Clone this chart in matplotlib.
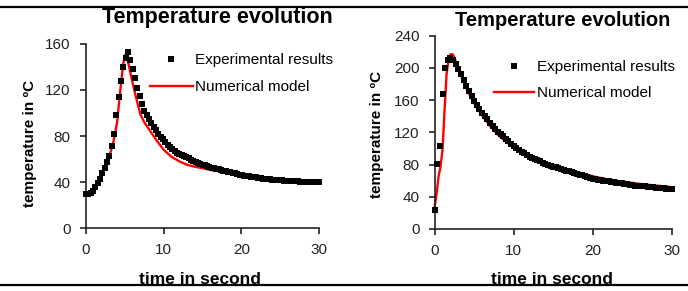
import numpy as np
import matplotlib
matplotlib.use("Agg")
import matplotlib.pyplot as plt
from matplotlib.lines import Line2D

plt.rcParams['font.family'] = ['Liberation Sans', 'DejaVu Sans']

# --- data ---
# left panel: experimental samples every 0.3 s
dt_exp_left = 0.3
temp_exp_left = [
    29.5, 29.5, 30.5, 32.5, 35.5, 39, 43, 47.5, 52, 57,
    63, 71, 82, 98, 114, 128, 140, 148, 153, 146,
    138, 130, 122, 115, 108, 102, 98, 94.5, 91, 88,
    85, 82, 79.5, 77, 74.5, 72.5, 70.5, 68.5, 67, 65.5,
    64.5, 63.5, 62.5, 61.5, 60.5, 59.5, 58.5, 57.5, 56.5, 56,
    55, 54.5, 53.5, 53, 52.5, 52, 51.5, 51, 50.5, 50,
    49.5, 49, 48.5, 48, 47.5, 47, 46.5, 46, 45.5, 45,
    45, 44.5, 44, 44, 43.5, 43.5, 43, 43, 42.5, 42.5,
    42, 42, 41.5, 41.5, 41.5, 41, 41, 41, 40.5, 40.5,
    40.5, 40.5, 40, 40, 40, 40, 40, 40, 40, 40,
    40,
]
time_model_left = [0, 0.5, 1, 1.5, 2, 2.5, 3, 3.5, 4, 4.5, 4.8, 5.0, 5.2,
                   5.5, 6, 6.5, 7, 7.5, 8, 9, 10, 11, 12, 13, 14, 15, 16,
                   17, 18, 19, 20, 22, 24, 26, 28, 30]
temp_model_left = [29, 29.5, 32, 38, 45, 53, 62, 74, 92, 125, 143, 150, 151,
                   142, 126, 112, 99, 92, 87, 77, 68, 62, 58, 55, 53.3, 52, 50.5,
                   49.5, 48.5, 47.5, 46.5, 44.5, 43, 42, 41, 40]

# right panel: experimental samples every 1/3 s
dt_exp_right = 1 / 3
temp_exp_right = [
    23, 81, 103, 168, 200, 210, 212, 210, 205, 199,
    192, 185, 178, 171, 165, 159, 154, 149, 144, 140,
    136, 132, 128, 124, 121, 118, 115, 112, 109, 106,
    103, 100.5, 98, 96, 94, 92, 90, 88.5, 87, 85.5,
    84, 82.5, 81, 80, 78.5, 77.5, 76.5, 75.5, 74.5, 73.5,
    72.5, 71.5, 70.5, 69.5, 68.5, 67.5, 66.5, 65.5, 64.5, 63.5,
    62.5, 62, 61, 60.5, 60, 59.5, 59, 58.5, 58, 57.5,
    57, 56.5, 56, 55.5, 55, 54.5, 54, 54, 53.5, 53,
    53, 52.5, 52, 52, 51.5, 51, 51, 50.5, 50, 50,
    49.5,
]
time_model_right = [0, 0.25, 0.5, 0.75, 1.0, 1.25, 1.5, 1.75, 2.0, 2.25, 2.5,
                    3, 3.5, 4, 4.5, 5, 6, 7, 8, 9, 10, 11, 12, 13, 14, 15,
                    16, 17, 18, 20, 22, 24, 26, 28, 30]
temp_model_right = [28, 45, 66, 78, 100, 148, 192, 210, 217, 217, 213,
                    198, 186, 175, 165, 156, 141, 128, 117, 108.5, 101, 94.5, 89.5, 85, 81, 78,
                    75, 72.5, 70.5, 65.5, 61.5, 58.5, 56, 54, 52]

time_exp_left = np.arange(len(temp_exp_left)) * dt_exp_left
time_exp_right = np.arange(len(temp_exp_right)) * dt_exp_right

W, H = 688, 291
MS = 4.4


def box(x0, y0, x1, y1):
    # pixel box -> figure fraction rect
    return [x0 / W, 1 - y1 / H, (x1 - x0) / W, (y1 - y0) / H]


fig = plt.figure(figsize=(W / 100, H / 100), dpi=100)


def make_panel(rect, t_exp, y_exp, t_mod, y_mod, ymax, ystep, leg):
    ax = fig.add_axes(rect)
    ax.plot(t_mod, y_mod, color='#ff0000', lw=1.7, zorder=2, clip_on=False)
    ax.plot(t_exp, y_exp, 's', color='black', ms=MS, mew=0, zorder=3, clip_on=False)
    ax.set_xlim(0, 30)
    ax.set_ylim(0, ymax)
    ax.set_xticks([0, 10, 20, 30])
    ax.set_yticks(np.arange(0, ymax + 1, ystep))
    for s in ['top', 'right']:
        ax.spines[s].set_visible(False)
    for s in ['left', 'bottom']:
        ax.spines[s].set_linewidth(1.2)
        ax.spines[s].set_color('#222222')
    ax.tick_params(length=4, width=1.2, color='#222222', labelsize=11,
                   labelcolor='#222222')
    ax.tick_params(axis='y', pad=7)
    ax.tick_params(axis='x', pad=7)
    handles = [Line2D([], [], ls='none', marker='s', color='black', ms=MS, mew=0),
               Line2D([], [], color='#ff0000', lw=1.7)]
    ax.legend(handles, ['Experimental results', 'Numerical model'],
              loc='upper left', bbox_to_anchor=leg[:2], frameon=False,
              handlelength=leg[2], handletextpad=leg[3], labelspacing=leg[4],
              borderpad=0, borderaxespad=0, fontsize=11, numpoints=1)
    return ax


ax1 = make_panel(box(86, 44, 319, 228), time_exp_left, temp_exp_left,
                 time_model_left, temp_model_left, 160, 40,
                 (0.275, 0.95, 2.8, 0.15, 0.85))
ax2 = make_panel(box(434.7, 35.7, 671.7, 229), time_exp_right, temp_exp_right,
                 time_model_right, temp_model_right, 240, 40,
                 (0.25, 0.874, 2.6, 0.2, 0.8))

# titles and axis labels
fig.text(217.5 / W, 1 - 18 / H, 'Temperature evolution', ha='center', va='center',
         fontsize=15.5, fontweight='bold')
fig.text(563 / W, 1 - 20 / H, 'Temperature evolution', ha='center', va='center',
         fontsize=14.5, fontweight='bold')
fig.text(200 / W, 1 - 280 / H, 'time in second', ha='center', va='center',
         fontsize=12.5, fontweight='bold')
fig.text(552 / W, 1 - 280 / H, 'time in second', ha='center', va='center',
         fontsize=12.5, fontweight='bold')
fig.text(30 / W, 1 - 143 / H, 'temperature in ºC', ha='center', va='center',
         rotation=90, fontsize=11, fontweight='bold')
fig.text(377 / W, 1 - 134 / H, 'temperature in ºC', ha='center', va='center',
         rotation=90, fontsize=11, fontweight='bold')

# black rules at top and bottom
fig.add_artist(Line2D([0, 1], [1 - 7 / H, 1 - 7 / H], color='black', lw=1.6,
                      transform=fig.transFigure))
fig.add_artist(Line2D([0, 1], [1 - 285 / H, 1 - 285 / H], color='black', lw=1.6,
                      transform=fig.transFigure))

fig.savefig('out.png', dpi=100, facecolor='white')
